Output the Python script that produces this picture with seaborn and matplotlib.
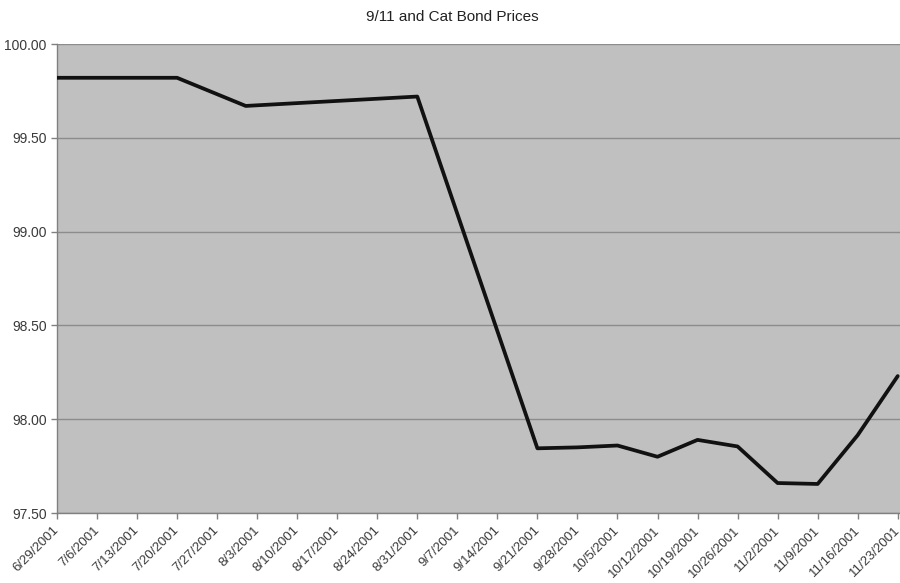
import matplotlib
matplotlib.use("Agg")
import matplotlib.pyplot as plt
import matplotlib.transforms as mtransforms
import seaborn as sns
import pandas as pd
import numpy as np

# Weekly cat bond price observations around September 2001
dates = ["2001-06-29", "2001-07-06", "2001-07-13", "2001-07-20", "2001-08-01",
         "2001-08-31", "2001-09-21", "2001-09-28", "2001-10-05", "2001-10-12",
         "2001-10-19", "2001-10-26", "2001-11-02", "2001-11-09", "2001-11-16",
         "2001-11-23"]
prices = [99.82, 99.82, 99.82, 99.82, 99.67,
          99.72, 97.845, 97.85, 97.86, 97.80,
          97.89, 97.855, 97.66, 97.655, 97.915,
          98.23]

tick_dates = pd.date_range("2001-06-29", "2001-11-23", freq="7D")
tick_labels = [f"{d.month}/{d.day}/{d.year}" for d in tick_dates]
y_ticks = [97.5, 98.0, 98.5, 99.0, 99.5, 100.0]

df = pd.DataFrame({"date": pd.to_datetime(dates), "price": prices})

sns.set_style("white")
plt.rcParams["font.family"] = ["Liberation Sans", "DejaVu Sans"]

fig = plt.figure(figsize=(9, 5.83), dpi=100)
ax = fig.add_axes([0.0633, 0.12, 0.9367, 0.8045])
ax.set_facecolor("#c0c0c0")

sns.lineplot(data=df, x="date", y="price", ax=ax, color="#111111",
             linewidth=2.7, zorder=3)

ax.set_ylim(97.5, 100.0)
ax.set_yticks(y_ticks)
ax.set_yticklabels([f"{v:.2f}" for v in y_ticks])
ax.set_xlim(tick_dates[0], tick_dates[-1] + pd.Timedelta(days=0.4))
ax.set_xticks(tick_dates)
ax.set_xticklabels(tick_labels, rotation=45, ha="right", rotation_mode="anchor")

ax.yaxis.grid(True, color="#8c8c8c", linewidth=1.0, zorder=1)
ax.xaxis.grid(False)
ax.set_axisbelow(True)

for side in ["top", "right"]:
    ax.spines[side].set_visible(False)
for side in ["left", "bottom"]:
    ax.spines[side].set_color("#808080")
    ax.spines[side].set_linewidth(1.0)

ax.tick_params(axis="both", which="major", direction="out", length=4,
               width=1.0, color="#808080", labelcolor="#3a3a3a",
               left=True, bottom=True)
ax.tick_params(axis="y", labelsize=10)
ax.tick_params(axis="x", labelsize=9.5, pad=4)

# nudge the slanted date labels a little to the left of their ticks
shift = mtransforms.ScaledTranslation(-4 / 100, 0, fig.dpi_scale_trans)
for lbl in ax.get_xticklabels():
    lbl.set_transform(lbl.get_transform() + shift)

ax.set_xlabel("")
ax.set_ylabel("")
fig.suptitle("9/11 and Cat Bond Prices", x=0.503, y=0.983, fontsize=11,
             color="#222222")

fig.savefig("out.png", dpi=100)
